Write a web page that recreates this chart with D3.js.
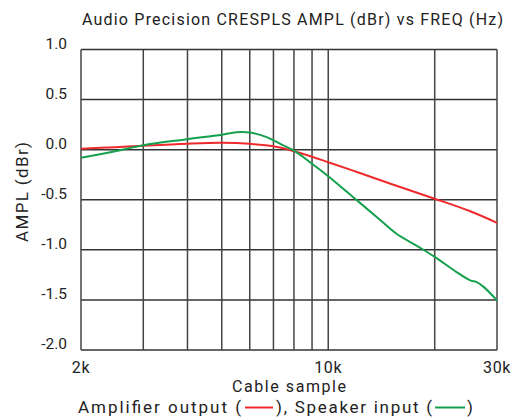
<!DOCTYPE html>
<html>
<head>
<meta charset="utf-8">
<script src="https://cdn.jsdelivr.net/npm/d3@7"></script>
<style>
  html, body { margin: 0; padding: 0; background: #fff; }
  svg { display: block; }
  text { font-family: Roboto, "Liberation Sans", sans-serif; fill: #222; }
</style>
</head>
<body>
<svg id="chart" width="513" height="420"></svg>
<script>
// ---- data ----
const titleText = "Audio Precision CRESPLS AMPL (dBr) vs FREQ (Hz)";
const yTicks = [1.0, 0.5, 0.0, -0.5, -1.0, -1.5, -2.0];
const xGrid = [2000, 3000, 4000, 5000, 6000, 7000, 8000, 9000, 10000, 20000, 30000];
const xLabels = [2000, 10000, 30000];
const xLabelText = ["2k", "10k", "30k"];
const seriesNames = ["Amplifier output", "Speaker input"];

const ampFreq = [2000, 2500, 3000, 4000, 5000, 6000, 7000, 8000, 9000, 10000, 12000, 15000, 20000, 25000, 30000];
const ampVals = [0.01, 0.025, 0.04, 0.06, 0.068, 0.058, 0.035, -0.015, -0.07, -0.125, -0.22, -0.34, -0.49, -0.61, -0.73];

const spkFreq = [2000, 2500, 3000, 4000, 5000, 5500, 6000, 6700, 7300, 8000, 9000, 10000, 12000, 14000, 15600, 18000, 20000, 23000, 25200, 26200, 27500, 30000];
const spkVals = [-0.08, -0.015, 0.045, 0.105, 0.15, 0.174, 0.172, 0.125, 0.06, -0.01, -0.14, -0.265, -0.50, -0.70, -0.84, -0.97, -1.07, -1.22, -1.305, -1.32, -1.37, -1.505];

(function () {
const svg = d3.select("#chart");
const pLeft = 81, pRight = 497, pTop = 49.5, pBottom = 350;
const x = d3.scaleLog().domain([2000, 30000]).range([pLeft, pRight]);
const y = d3.scaleLinear().domain([-2, 1]).range([pBottom, pTop]);
const red = "#ee2a2d", green = "#14a04c";

// title
svg.append("text").attr("x", 82).attr("y", 25).attr("font-size", 16)
  .attr("textLength", 421).attr("lengthAdjust", "spacing").text(titleText);

// grid
const g = svg.append("g");
g.selectAll(".hg").data(yTicks).join("line")
  .attr("x1", pLeft).attr("x2", pRight)
  .attr("y1", d => y(d)).attr("y2", d => y(d))
  .attr("stroke", "#333").attr("stroke-width", 1.5);
g.selectAll(".vg").data(xGrid).join("line")
  .attr("x1", d => x(d)).attr("x2", d => x(d))
  .attr("y1", pTop).attr("y2", pBottom)
  .attr("stroke", "#444").attr("stroke-width", 1.5);

// y tick labels
svg.selectAll(".yl").data(yTicks).join("text")
  .attr("x", 67).attr("y", d => y(d) - 1)
  .attr("text-anchor", "end").attr("font-size", 15.5)
  .text(d => d3.format(".1f")(d).replace("−", "-"));

// x tick labels
svg.selectAll(".xl").data(xLabels).join("text")
  .attr("x", (d) => x(d)).attr("y", 373)
  .attr("text-anchor", "middle").attr("font-size", 16).attr("letter-spacing", 0.6)
  .text((d, i) => xLabelText[i]);

// y axis title
svg.append("text").attr("transform", "translate(27.5,192) rotate(-90)")
  .attr("text-anchor", "middle").attr("font-size", 17)
  .attr("textLength", 100).attr("lengthAdjust", "spacing").text("AMPL (dBr)");

// x axis title
svg.append("text").attr("x", 289).attr("y", 392)
  .attr("text-anchor", "middle").attr("font-size", 16)
  .attr("textLength", 114).attr("lengthAdjust", "spacing").text("Cable sample");

// curves
const line = d3.line().x(d => x(d[0])).y(d => y(d[1])).curve(d3.curveCatmullRom.alpha(0.5));
svg.append("path").datum(ampFreq.map((f, i) => [f, ampVals[i]]))
  .attr("d", line).attr("fill", "none").attr("stroke", red).attr("stroke-width", 2);
svg.append("path").datum(spkFreq.map((f, i) => [f, spkVals[i]]))
  .attr("d", line).attr("fill", "none").attr("stroke", green).attr("stroke-width", 2);

// legend
const legY = 413, dashY = 407.5;
const lg = svg.append("g").attr("font-size", 17);
lg.append("text").attr("x", 78).attr("y", legY).attr("textLength", 163)
  .attr("lengthAdjust", "spacing").text(seriesNames[0] + " (");
lg.append("line").attr("x1", 245).attr("x2", 273).attr("y1", dashY).attr("y2", dashY)
  .attr("stroke", red).attr("stroke-width", 2);
lg.append("text").attr("x", 276).attr("y", legY).attr("textLength", 156)
  .attr("lengthAdjust", "spacing").attr("xml:space", "preserve").text("), " + seriesNames[1] + " (");
lg.append("line").attr("x1", 435).attr("x2", 465).attr("y1", dashY).attr("y2", dashY)
  .attr("stroke", green).attr("stroke-width", 2);
lg.append("text").attr("x", 467).attr("y", legY).text(")");
})();
</script>
</body>
</html>
